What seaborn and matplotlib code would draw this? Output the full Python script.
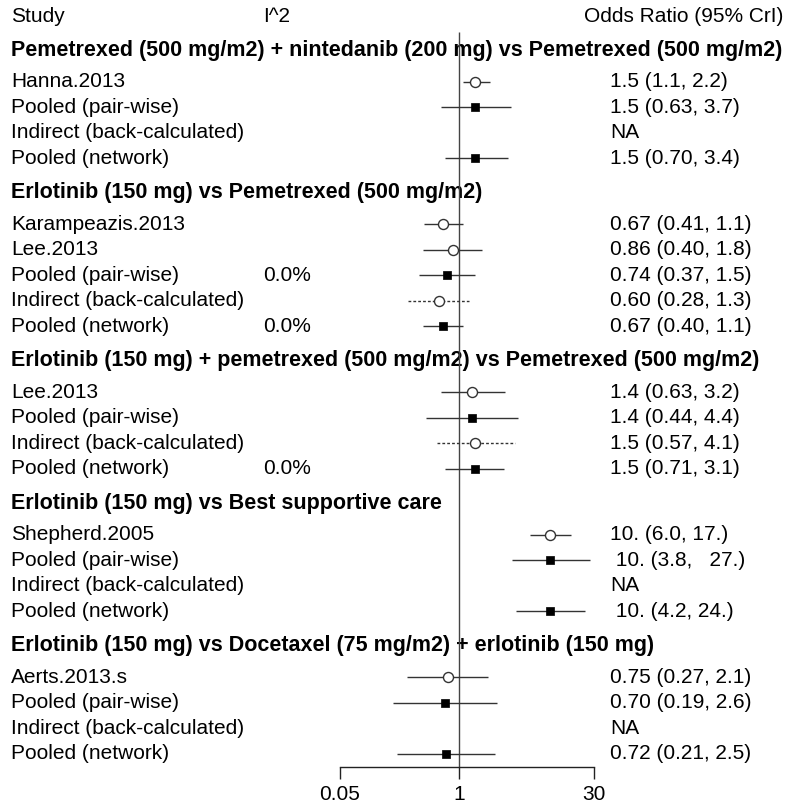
import numpy as np
import pandas as pd
import matplotlib
matplotlib.use("Agg")
import matplotlib.pyplot as plt
import matplotlib.transforms as mtransforms
import seaborn as sns

sns.set_theme(style="white")
plt.rcParams["font.family"] = ["Liberation Sans", "DejaVu Sans"]
plt.rcParams["text.color"] = "black"

# ---- data -------------------------------------------------------------
comparisons = [
    "Pemetrexed (500 mg/m2) + nintedanib (200 mg) vs Pemetrexed (500 mg/m2)",
    "Erlotinib (150 mg) vs Pemetrexed (500 mg/m2)",
    "Erlotinib (150 mg) + pemetrexed (500 mg/m2) vs Pemetrexed (500 mg/m2)",
    "Erlotinib (150 mg) vs Best supportive care",
    "Erlotinib (150 mg) vs Docetaxel (75 mg/m2) + erlotinib (150 mg)",
]

# row labels per comparison
labels_1 = ["Hanna.2013", "Pooled (pair-wise)", "Indirect (back-calculated)", "Pooled (network)"]
labels_2 = ["Karampeazis.2013", "Lee.2013", "Pooled (pair-wise)", "Indirect (back-calculated)", "Pooled (network)"]
labels_3 = ["Lee.2013", "Pooled (pair-wise)", "Indirect (back-calculated)", "Pooled (network)"]
labels_4 = ["Shepherd.2005", "Pooled (pair-wise)", "Indirect (back-calculated)", "Pooled (network)"]
labels_5 = ["Aerts.2013.s", "Pooled (pair-wise)", "Indirect (back-calculated)", "Pooled (network)"]

# row kinds: study / pairwise / indirect / network
kinds_1 = ["study", "pairwise", "indirect", "network"]
kinds_2 = ["study", "study", "pairwise", "indirect", "network"]
kinds_3 = ["study", "pairwise", "indirect", "network"]
kinds_4 = ["study", "pairwise", "indirect", "network"]
kinds_5 = ["study", "pairwise", "indirect", "network"]

# odds ratio estimates and 95% credible limits (NaN = not available)
est_1 = [1.5, 1.5, np.nan, 1.5]
lo_1 = [1.1, 0.63, np.nan, 0.70]
hi_1 = [2.2, 3.7, np.nan, 3.4]

est_2 = [0.67, 0.86, 0.74, 0.60, 0.67]
lo_2 = [0.41, 0.40, 0.37, 0.28, 0.40]
hi_2 = [1.1, 1.8, 1.5, 1.3, 1.1]

est_3 = [1.4, 1.4, 1.5, 1.5]
lo_3 = [0.63, 0.44, 0.57, 0.71]
hi_3 = [3.2, 4.4, 4.1, 3.1]

est_4 = [10.0, 10.0, np.nan, 10.0]
lo_4 = [6.0, 3.8, np.nan, 4.2]
hi_4 = [17.0, 27.0, np.nan, 24.0]

est_5 = [0.75, 0.70, np.nan, 0.72]
lo_5 = [0.27, 0.19, np.nan, 0.21]
hi_5 = [2.1, 2.6, np.nan, 2.5]

# printed summary text
text_1 = ["1.5 (1.1, 2.2)", "1.5 (0.63, 3.7)", "NA", "1.5 (0.70, 3.4)"]
text_2 = ["0.67 (0.41, 1.1)", "0.86 (0.40, 1.8)", "0.74 (0.37, 1.5)", "0.60 (0.28, 1.3)", "0.67 (0.40, 1.1)"]
text_3 = ["1.4 (0.63, 3.2)", "1.4 (0.44, 4.4)", "1.5 (0.57, 4.1)", "1.5 (0.71, 3.1)"]
text_4 = ["10. (6.0, 17.)", " 10. (3.8,   27.)", "NA", " 10. (4.2, 24.)"]
text_5 = ["0.75 (0.27, 2.1)", "0.70 (0.19, 2.6)", "NA", "0.72 (0.21, 2.5)"]

# heterogeneity column
i2_1 = ["", "", "", ""]
i2_2 = ["", "", "0.0%", "", "0.0%"]
i2_3 = ["", "", "", "0.0%"]
i2_4 = ["", "", "", ""]
i2_5 = ["", "", "", ""]

x_ticks = [0.05, 1, 30]
x_tick_labels = ["0.05", "1", "30"]

groups = [
    (labels_1, kinds_1, est_1, lo_1, hi_1, text_1, i2_1),
    (labels_2, kinds_2, est_2, lo_2, hi_2, text_2, i2_2),
    (labels_3, kinds_3, est_3, lo_3, hi_3, text_3, i2_3),
    (labels_4, kinds_4, est_4, lo_4, hi_4, text_4, i2_4),
    (labels_5, kinds_5, est_5, lo_5, hi_5, text_5, i2_5),
]

# ---- build long table with row positions --------------------------------
HEAD_GAP = 1.30   # previous row -> comparison heading
FIRST_GAP = 1.25  # heading -> first row of the block
records = []
headings = []
y = 0.0
for comp, (labs, kinds, est, lo, hi, txt, i2) in zip(comparisons, groups):
    y += HEAD_GAP
    headings.append((comp, y))
    y += FIRST_GAP - 1.0
    for lab, k, e, l, h, t, q in zip(labs, kinds, est, lo, hi, txt, i2):
        y += 1.0
        records.append(dict(label=lab, kind=k, est=e, lo=l, hi=h, text=t, i2=q, y=y))
    y += 0.05
df = pd.DataFrame(records)

# ---- figure ---------------------------------------------------------------
W, H, DPI = 793, 807, 100
fig = plt.figure(figsize=(W / DPI, H / DPI), dpi=DPI)
fig.patch.set_facecolor("white")

x_left_px, x_right_px = 340, 594
axis_px = 767
row_px = 25.45
top_px = 17
ax = fig.add_axes([x_left_px / W, (H - axis_px) / H, (x_right_px - x_left_px) / W, axis_px / H])
ax.set_xscale("log")
ax.set_xlim(0.05, 30)
y_bottom = (axis_px - top_px) / row_px
y_top = -top_px / row_px
ax.set_ylim(y_bottom, y_top)
ax.patch.set_visible(False)
for s in ["top", "left", "right"]:
    ax.spines[s].set_visible(False)
ax.spines["bottom"].set_color("#222222")
ax.spines["bottom"].set_linewidth(1.0)
ax.set_yticks([])
ax.set_xticks(x_ticks)
ax.set_xticklabels(x_tick_labels)
ax.minorticks_off()
ax.tick_params(axis="x", which="major", direction="out", length=8.6, width=1.0,
               color="#222222", pad=4, labelsize=15, labelcolor="black", bottom=True)
ax.grid(False)

line_col = "#333333"
# reference line at OR = 1
ax.vlines(1, (32 - top_px) / row_px, y_bottom, color="#444444", lw=1.0, zorder=1)

# credible interval segments
ok = df.dropna(subset=["est"])
solid = ok[ok["kind"] != "indirect"]
dotted = ok[ok["kind"] == "indirect"]
ax.hlines(solid["y"], solid["lo"], solid["hi"], color=line_col, lw=1.0, zorder=2)
ax.hlines(dotted["y"], dotted["lo"], dotted["hi"], color=line_col, lw=1.0,
          linestyles=(0, (2, 1.5)), zorder=2)

# point estimates
circ = ok[ok["kind"].isin(["study", "indirect"])]
sq = ok[ok["kind"].isin(["pairwise", "network"])]
sns.scatterplot(data=circ, x="est", y="y", ax=ax, marker="o", s=52,
                facecolor="white", edgecolor=line_col, linewidth=1.0, zorder=3, legend=False)
sns.scatterplot(data=sq, x="est", y="y", ax=ax, marker="s", s=28,
                color="black", edgecolor="black", linewidth=0.5, zorder=3, legend=False)
ax.set_xlabel("")
ax.set_ylabel("")

# ---- text columns -------------------------------------------------------
fig_x_data_y = mtransforms.blended_transform_factory(fig.transFigure, ax.transData)
fs = 15
fs_bold = 15.5
x_study = 11 / W
x_i2 = 263 / W
x_txt = 610 / W
x_right = 783 / W

ax.text(x_study, 0, "Study", transform=fig_x_data_y, ha="left", va="center", fontsize=fs, clip_on=False)
ax.text(x_i2, 0, "I^2", transform=fig_x_data_y, ha="left", va="center", fontsize=fs, clip_on=False)
ax.text(x_right, 0, "Odds Ratio (95% CrI)", transform=fig_x_data_y, ha="right", va="center",
        fontsize=fs, clip_on=False)

for comp, yy in headings:
    ax.text(x_study, yy, comp, transform=fig_x_data_y, ha="left", va="center",
            fontsize=fs_bold, fontweight="bold", clip_on=False, zorder=0)

for _, r in df.iterrows():
    ax.text(x_study, r["y"], r["label"], transform=fig_x_data_y, ha="left", va="center",
            fontsize=fs, clip_on=False)
    if r["i2"]:
        ax.text(x_i2, r["y"], r["i2"], transform=fig_x_data_y, ha="left", va="center",
                fontsize=fs, clip_on=False)
    ax.text(x_txt, r["y"], r["text"], transform=fig_x_data_y, ha="left", va="center",
            fontsize=fs, clip_on=False)

fig.savefig("out.png", dpi=DPI, facecolor="white")
